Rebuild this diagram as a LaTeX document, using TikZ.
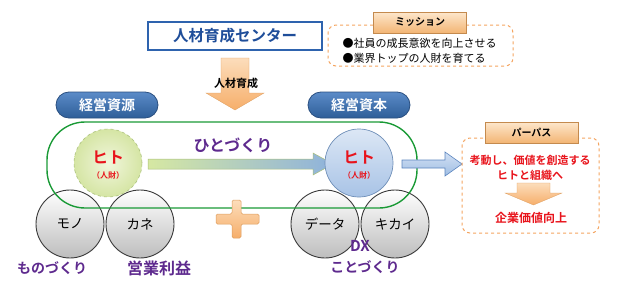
\documentclass[tikz,border=0pt]{standalone}
\usepackage{fontspec}
\setmainfont{Noto Sans CJK JP}[BoldFont={Noto Sans CJK JP Bold}]
\definecolor{tblue}{HTML}{1F4E9A}
\definecolor{bblue}{HTML}{2E63AE}
\definecolor{pilltop}{HTML}{5B8BC8}
\definecolor{pillbot}{HTML}{2E5E98}
\definecolor{pillbd}{HTML}{2A4F80}
\definecolor{dorange}{HTML}{F4A460}
\definecolor{tabtop}{HTML}{FDE7CC}
\definecolor{tabbot}{HTML}{F3B574}
\definecolor{tabbd}{HTML}{C48A4E}
\definecolor{arrtop}{HTML}{FCDDBB}
\definecolor{arrbot}{HTML}{F6AE6A}
\definecolor{gline}{HTML}{1A9A36}
\definecolor{purp}{HTML}{5E2A8E}
\definecolor{hred}{HTML}{E8141C}
\definecolor{gbd}{HTML}{3A3A3A}
\definecolor{gcbot}{HTML}{BDBDBD}
\definecolor{hgin}{HTML}{F1F6DC}
\definecolor{hgout}{HTML}{D5E5A4}
\definecolor{hgbd}{HTML}{A9BF7A}
\definecolor{hbtop}{HTML}{DCE7F5}
\definecolor{hbbot}{HTML}{A8C3E6}
\definecolor{hbbd}{HTML}{6F8FB8}
\definecolor{argreen}{HTML}{D6E8A2}
\definecolor{arblue}{HTML}{8EB2DC}
\definecolor{rbtop}{HTML}{D3E1F4}
\definecolor{rbbot}{HTML}{9FBDE3}
\definecolor{rbbd}{HTML}{5A84BE}
\begin{document}
\begin{tikzpicture}[x=1pt,y=-1pt,
  pill/.style={rounded corners=13pt, minimum width=102pt, minimum height=26pt, inner sep=0pt,
    top color=pilltop, bottom color=pillbot, draw=pillbd, line width=0.8pt,
    text=white, font=\fontsize{14}{15}\bfseries},
  tabbox/.style={minimum width=93pt, minimum height=21pt, inner sep=0pt,
    top color=tabtop, bottom color=tabbot, draw=tabbd, line width=0.6pt,
    font=\fontsize{10}{12}\bfseries},
  dbox/.style={draw=dorange, dashed, line width=1pt, rounded corners=8pt, inner sep=0pt},
  gcirc/.style={circle, minimum size=68pt, inner sep=0pt, top color=white, bottom color=gcbot,
    font=\fontsize{13.5}{14}\selectfont},
  hcirc/.style={circle, minimum size=68pt, inner sep=0pt},
  blab/.style={text=purp, font=\fontsize{15}{16}\bfseries},
  redt/.style={text=hred, font=\fontsize{11}{12}\bfseries},
  oarrow/.style={top color=arrtop, bottom color=arrbot, draw=arrbot!90!black, line width=0.3pt}
]
\useasboundingbox (0,0) rectangle (624,289);

% title
\node[draw=bblue, line width=1.8pt, fill=white, minimum width=174pt, minimum height=28pt,
  inner sep=0pt, text=tblue, font=\fontsize{15.5}{16}\bfseries] (title) at (235,36) {人材育成センター};

% mission
\node[dbox, minimum width=185pt, minimum height=41pt] (mission) at (420.5,45.5) {};
\node[tabbox] (mtab) at (420,22.5) {ミッション};
\node[anchor=west, font=\fontsize{11}{13}\selectfont] (m1) at (339,43.5) {●社員の成長意欲を向上させる};
\node[anchor=west, font=\fontsize{11}{13}\selectfont] (m2) at (339,58.5) {●業界トップの人財を育てる};

% down arrow
\draw[oarrow] (221,58) -- (249,58) -- (249,93) -- (264,93) -- (235,110) -- (206,93) -- (221,93) -- cycle;
\node[font=\fontsize{11}{12}\bfseries] (hlabel) at (236,83) {人材育成};

% pills
\node[pill] (src) at (107,105) {経営資源};
\node[pill] (cap) at (359,105) {経営資本};

% gray circles
\node[gcirc] (mono) at (70,224) {モノ};
\node[gcirc] (kane) at (140,224) {カネ};
\node[gcirc] (data) at (325,224) {データ};
\node[gcirc] (kikai) at (395,224) {キカイ};
\foreach \n in {mono,kane,data,kikai} \draw[gbd, line width=0.9pt] (\n.center) circle (34pt);

% green frame
\draw[gline, line width=1.4pt, rounded corners=38pt] (47,122) rectangle (417,208);

% plus
\draw[top color=arrtop, bottom color=arrbot, draw=arrbot!90!black, line width=0.5pt, rounded corners=1.5pt]
  (232,200) -- (241,200) -- (241,214) -- (259,214) -- (259,224) -- (241,224) -- (241,238)
  -- (232,238) -- (232,224) -- (216,224) -- (216,214) -- (232,214) -- cycle;

% hitozukuri arrow
\draw[left color=argreen, right color=arblue, draw=hgbd, line width=0.5pt]
  (148,159) -- (313,159) -- (313,153) -- (333,164) -- (313,175) -- (313,169) -- (148,169) -- cycle;
\node[text=purp, font=\fontsize{16}{17}\bfseries] (hz) at (233,145) {ひとづくり};

% hito circles
\node[hcirc, inner color=hgin, outer color=hgout,
  draw=hgbd, dashed, line width=0.6pt] (hito1) at (108,163) {};
\node[text=hred, font=\fontsize{16}{17}\bfseries] at (108,158) {ヒト};
\node[text=hred, font=\fontsize{8}{9}\bfseries] at (108,175) {（人財）};
\node[hcirc, top color=hbtop, bottom color=hbbot,
  draw=hbbd, line width=0.7pt] (hito2) at (359,163) {};
\node[text=hred, font=\fontsize{16}{17}\bfseries] at (359,158) {ヒト};
\node[text=hred, font=\fontsize{8}{9}\bfseries] at (359,175) {（人財）};

% right arrow
\draw[top color=rbtop, bottom color=rbbot, draw=rbbd, line width=0.6pt]
  (402,160) -- (445,160) -- (445,152) -- (462,164) -- (445,176) -- (445,168) -- (402,168) -- cycle;

% purpose
\node[dbox, minimum width=137pt, minimum height=95pt] (purpose) at (530.5,185.5) {};
\node[tabbox] (ptab) at (531.5,132.5) {パーパス};
\node[redt] (p1) at (530,160) {考動し、価値を創造する};
\node[redt] (p2) at (530,175) {ヒトと組織へ};
\draw[oarrow] (517,183) -- (550,183) -- (550,193) -- (562,193) -- (533.5,205) -- (505,193) -- (517,193) -- cycle;
\node[text=hred, font=\fontsize{12}{13}\bfseries] (p3) at (531,218) {企業価値向上};

% bottom labels
\node[blab, font=\fontsize{14}{15}\bfseries] (l1) at (52,268) {ものづくり};
\node[blab, font=\fontsize{16}{17}\bfseries] (l2) at (159,268) {営業利益};
\node[blab] (l3) at (360,246) {DX};
\node[blab, font=\fontsize{14}{15}\bfseries] (l4) at (365,267) {ことづくり};
\end{tikzpicture}
\end{document}
